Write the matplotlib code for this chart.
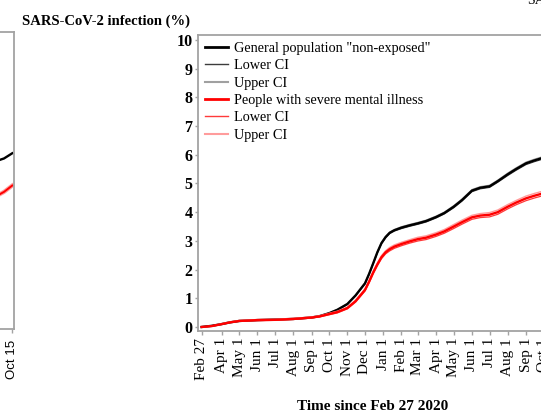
import numpy as np
import matplotlib
matplotlib.use("Agg")
import matplotlib.pyplot as plt
import matplotlib.dates as mdates
from matplotlib.lines import Line2D

plt.rcParams['font.family'] = ['Liberation Serif', 'DejaVu Serif']

# ---------------- data ----------------
dates = ["2020-02-27", "2020-03-15", "2020-04-01", "2020-04-15", "2020-05-01",
         "2020-06-01", "2020-07-01", "2020-08-01", "2020-09-01", "2020-09-15",
         "2020-10-01", "2020-10-15", "2020-11-01", "2020-11-15", "2020-12-01",
         "2020-12-08", "2020-12-15", "2020-12-22", "2020-12-29", "2021-01-05",
         "2021-01-12", "2021-01-20", "2021-02-01", "2021-02-15", "2021-03-01",
         "2021-03-15", "2021-04-01", "2021-04-15", "2021-05-01", "2021-05-15",
         "2021-06-01", "2021-06-15", "2021-07-01", "2021-07-15", "2021-08-01",
         "2021-08-15", "2021-09-01", "2021-09-15", "2021-10-01", "2021-10-15"]

general_pop = [0.00, 0.04, 0.10, 0.16, 0.21, 0.24, 0.26, 0.28, 0.33, 0.38,
               0.48, 0.60, 0.80, 1.10, 1.52, 1.85, 2.22, 2.60, 2.92, 3.13,
               3.28, 3.37, 3.46, 3.54, 3.61, 3.69, 3.83, 3.97, 4.19, 4.42,
               4.75, 4.85, 4.90, 5.08, 5.32, 5.50, 5.70, 5.80, 5.90, 6.00]
general_ci = [0.0, 0.0, 0.005, 0.005, 0.01, 0.01, 0.01, 0.01, 0.01, 0.01,
              0.015, 0.015, 0.02, 0.02, 0.025, 0.025, 0.03, 0.03, 0.03, 0.03,
              0.03, 0.03, 0.035, 0.035, 0.035, 0.035, 0.035, 0.035, 0.04, 0.04,
              0.04, 0.04, 0.04, 0.04, 0.045, 0.045, 0.045, 0.045, 0.045, 0.045]

smi = [0.00, 0.03, 0.10, 0.16, 0.21, 0.24, 0.25, 0.28, 0.33, 0.37,
       0.45, 0.52, 0.66, 0.90, 1.29, 1.58, 1.90, 2.18, 2.43, 2.60,
       2.71, 2.80, 2.89, 2.98, 3.06, 3.11, 3.22, 3.33, 3.50, 3.65,
       3.82, 3.88, 3.91, 4.00, 4.19, 4.33, 4.48, 4.57, 4.66, 4.76]
smi_ci = [0.0, 0.0, 0.01, 0.01, 0.015, 0.02, 0.02, 0.02, 0.02, 0.02,
          0.025, 0.03, 0.03, 0.035, 0.04, 0.045, 0.05, 0.05, 0.055, 0.055,
          0.06, 0.06, 0.06, 0.06, 0.065, 0.065, 0.065, 0.065, 0.07, 0.07,
          0.07, 0.07, 0.075, 0.075, 0.075, 0.075, 0.08, 0.08, 0.08, 0.08]

# left (neighbouring) panel, only its last part is visible
left_dates = ["2021-09-01", "2021-09-15", "2021-10-01", "2021-10-15"]
left_general = [5.55, 5.67, 5.78, 5.96]
left_smi = [4.30, 4.44, 4.62, 4.84]
left_tick_dates = ["2021-08-01", "2021-09-01", "2021-10-15"]
left_tick_labels = ["Aug 1", "Sep 1", "Oct 15"]

tick_dates = ["2020-02-27", "2020-04-01", "2020-05-01", "2020-06-01", "2020-07-01",
              "2020-08-01", "2020-09-01", "2020-10-01", "2020-11-01", "2020-12-01",
              "2021-01-01", "2021-02-01", "2021-03-01", "2021-04-01", "2021-05-01",
              "2021-06-01", "2021-07-01", "2021-08-01", "2021-09-01", "2021-10-01"]
tick_labels = ["Feb 27", "Apr 1", "May 1", "Jun 1", "Jul 1", "Aug 1", "Sep 1",
               "Oct 1", "Nov 1", "Dec 1", "Jan 1", "Feb 1", "Mar 1", "Apr 1",
               "May 1", "Jun 1", "Jul 1", "Aug 1", "Sep 1", "Oct 1"]
y_ticks = [0, 1, 2, 3, 4, 5, 6, 7, 8, 9, 10]

legend_labels = ['General population "non-exposed"', 'Lower CI', 'Upper CI',
                 'People with severe mental illness', 'Lower CI', 'Upper CI']

# ---------------- figure ----------------
W, H = 541, 417
fig = plt.figure(figsize=(W / 100, H / 100), dpi=100)


def fx(px):
    return px / W


def fy(py):
    return 1 - py / H


def to_num(lst):
    return mdates.date2num(np.array(lst, dtype="datetime64[D]"))


x = to_num(dates)
gp = np.array(general_pop)
gci = np.array(general_ci)
sm = np.array(smi)
sci = np.array(smi_ci)

SPINE = '#a3a3a3'
C_BLACK, C_BLACK_LO, C_BLACK_HI = '#000000', '#3c3c3c', '#a0a0a0'
C_RED, C_RED_LO, C_RED_HI = '#ff0000', '#ff3a3a', '#ff9c9c'

xlim = to_num(["2020-02-21", "2021-10-21"])
ax_w_px = 357.3

# main (right) panel
ax = fig.add_axes([fx(198.1), fy(331), ax_w_px / W, (331 - 35) / H])
ax.plot(x, gp + gci, color=C_BLACK_HI, lw=0.8)
ax.plot(x, gp - gci, color=C_BLACK_LO, lw=0.8)
ax.plot(x, gp, color=C_BLACK, lw=1.7)
ax.plot(x, sm + sci, color=C_RED_HI, lw=1.0)
ax.plot(x, sm - sci, color=C_RED_LO, lw=0.9)
ax.plot(x, sm, color=C_RED, lw=1.7)
ax.set_xlim(*xlim)
ax.set_ylim(-0.14, 10.17)
ax.set_xticks(to_num(tick_dates))
ax.set_xticklabels(tick_labels, rotation=90, fontsize=11)
ax.set_yticks(y_ticks)
ax.set_yticklabels([str(v) for v in y_ticks], fontsize=11.5, fontweight='bold')
ax.tick_params(axis='both', color=SPINE, length=3, width=1, pad=2)
ax.tick_params(axis='y', length=2, pad=2)
for s in ax.spines.values():
    s.set_color(SPINE)
    s.set_linewidth(1.3)

handles = [Line2D([], [], color=C_BLACK, lw=2.0),
           Line2D([], [], color=C_BLACK_LO, lw=1.0),
           Line2D([], [], color=C_BLACK_HI, lw=1.5),
           Line2D([], [], color=C_RED, lw=2.0),
           Line2D([], [], color=C_RED_LO, lw=1.0),
           Line2D([], [], color=C_RED_HI, lw=1.5)]
ax.legend(handles, legend_labels, loc='upper left',
          bbox_to_anchor=(fx(205), fy(42)), bbox_transform=fig.transFigure,
          frameon=False, borderpad=0, borderaxespad=0, handlelength=1.6,
          handletextpad=0.4, labelspacing=0.3,
          prop=dict(family='Liberation Serif', size=10.3))

# left panel (mostly outside the picture)
left_xlim = to_num(["2020-02-18", "2021-10-18"])
ax2 = fig.add_axes([fx(14 - ax_w_px), fy(329), ax_w_px / W, (329 - 32) / H])
lx = to_num(left_dates)
ax2.plot(lx, left_general, color=C_BLACK, lw=1.7)
ax2.plot(lx, left_smi, color=C_RED_HI, lw=3.0)
ax2.plot(lx, left_smi, color=C_RED, lw=1.4)
ax2.set_xlim(*left_xlim)
ax2.set_ylim(-0.14, 10.17)
ax2.set_xticks(to_num(left_tick_dates))
ax2.set_xticklabels(left_tick_labels, rotation=90, fontsize=9.5,
                    family=['Liberation Sans', 'DejaVu Sans'])
ax2.set_yticks([])
ax2.tick_params(axis='x', color=SPINE, length=3, width=1, pad=5)
for s in ax2.spines.values():
    s.set_color(SPINE)
    s.set_linewidth(1.3)

# texts
fig.text(fx(22), fy(25), "SARS-CoV-2 infection (%)", fontsize=10.5,
         fontweight='bold', ha='left', va='baseline')
fig.text(fx(373), fy(407), "Time since Feb 27 2020", fontsize=11,
         fontweight='bold', ha='center', va='center')
fig.text(fx(527), fy(4), "SARS-CoV-2", fontsize=10, ha='left', va='baseline')

fig.savefig("out.png", dpi=100)
